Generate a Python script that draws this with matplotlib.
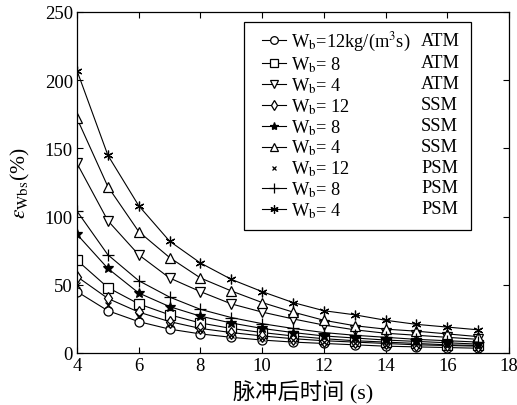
import matplotlib
matplotlib.use("Agg")
import matplotlib.pyplot as plt
from matplotlib.patches import Rectangle

plt.rcParams['font.family'] = ['Liberation Serif', 'Noto Sans CJK SC', 'DejaVu Sans']
plt.rcParams['mathtext.fontset'] = 'stix'

# ---- data ----
t = [4, 5, 6, 7, 8, 9, 10, 11, 12, 13, 14, 15, 16, 17]
atm_12 = [45, 31, 23, 17.5, 14, 11.5, 9.5, 8, 7, 6, 5, 4.5, 4, 3.5]
atm_8 = [68, 48, 36, 28, 22, 18, 15, 12.5, 10.5, 9, 8, 7, 6, 5.5]
atm_4 = [139, 97, 72, 55, 45, 36, 30, 25, 20.5, 17, 14.5, 13, 11.5, 10]
ssm_12 = [56, 40, 30, 23, 18, 15, 12.5, 10.5, 9, 8, 7, 6, 5.5, 5]
ssm_8 = [87, 62, 44, 34, 27, 22, 18, 15, 12.5, 11, 9.5, 8.5, 7.5, 6.5]
ssm_4 = [172, 122, 89, 70, 55, 45.5, 37, 30, 24, 20, 17.5, 16, 14, 12]
psm_12 = [50, 35, 27, 21, 16.5, 13.5, 11, 9.5, 8, 7, 6, 5.5, 5, 4.5]
psm_8 = [104, 72, 53, 41, 32, 26, 21.5, 18, 15, 13, 11.5, 10, 9, 8]
psm_4 = [207, 145, 108, 82, 66, 54, 45, 37, 31, 28, 24, 21, 19, 17]

left_labels = [r'W$_{\rm b}$=12kg/(m$^3$s)', r'W$_{\rm b}$= 8', r'W$_{\rm b}$= 4',
               r'W$_{\rm b}$= 12', r'W$_{\rm b}$= 8', r'W$_{\rm b}$= 4',
               r'W$_{\rm b}$= 12', r'W$_{\rm b}$= 8', r'W$_{\rm b}$= 4']
right_labels = ['ATM', 'ATM', 'ATM', 'SSM', 'SSM', 'SSM', 'PSM', 'PSM', 'PSM']
x_ticks = [4, 6, 8, 10, 12, 14, 16, 18]
y_ticks = [0, 50, 100, 150, 200, 250]

W, H = 517, 406
fig = plt.figure(figsize=(W/100, H/100), dpi=100)
ax = fig.add_axes([77/W, 1-354/H, (509-77)/W, (354-13)/H])

series = [atm_12, atm_8, atm_4, ssm_12, ssm_8, ssm_4, psm_12, psm_8, psm_4]
styles = [
    dict(marker='o', ms=6.5, mfc='white', ls='-'),
    dict(marker='s', ms=6.5, mfc='white', ls='-'),
    dict(marker='v', ms=7.5, mfc='white', ls='-'),
    dict(marker='d', ms=6.5, mfc='white', ls='-'),
    dict(marker='*', ms=7, mfc='black', ls='-'),
    dict(marker='^', ms=7.5, mfc='white', ls='-'),
    dict(marker='x', ms=4, mfc='black', ls='none'),
    dict(marker='+', ms=8, mfc='black', ls='-'),
    dict(marker=(6, 2, 0), ms=7, mfc='black', ls='-'),
]
handles = []
for ys, st, lab in zip(series, styles, left_labels):
    h, = ax.plot(t, ys, color='black', lw=0.8, mec='black', mew=0.9, label=lab, **st)
    handles.append(h)

# legend frame drawn separately (inside the axes so the legend sits above it)
ax.add_patch(Rectangle((244/W, 1-231/H), (471-244)/W, (231-23)/H,
                       transform=fig.transFigure, fill=True, facecolor='white',
                       edgecolor='black', lw=0.9, zorder=4, clip_on=False))
leg = ax.legend(handles, left_labels, loc='upper left',
                bbox_to_anchor=(262/W, 1-31/H), bbox_transform=fig.transFigure,
                borderaxespad=0, borderpad=0, frameon=False,
                fontsize=13.2, handlelength=1.3, handletextpad=0.3,
                labelspacing=0.08, markerscale=0.85)
leg.set_zorder(5)

ax.set_xlim(4, 18)
ax.set_ylim(0, 250)
ax.set_xticks(x_ticks)
ax.set_yticks(y_ticks)
ax.tick_params(direction='in', top=True, right=True, labelsize=13.5, length=4, width=0.8, pad=3)
for s in ax.spines.values():
    s.set_linewidth(0.9)

ax.set_xlabel('脉冲后时间 (s)', fontsize=16)
ax.xaxis.set_label_coords(0.523, -0.115)
ax.xaxis.label.set_va('center')
ax.set_ylabel(r'$\varepsilon_{\rm Wbs}$(%)', fontsize=15.5, labelpad=9)

fig.canvas.draw()
inv = fig.transFigure.inverted()
for txt, lab in zip(leg.get_texts(), right_labels):
    bb = txt.get_window_extent()
    yc = (bb.y0 + bb.y1) / 2 + 1.5
    fig.text(421/W, inv.transform((0, yc))[1], lab, fontsize=13.2, va='center', ha='left', zorder=6)

fig.savefig('out.png', dpi=100)
